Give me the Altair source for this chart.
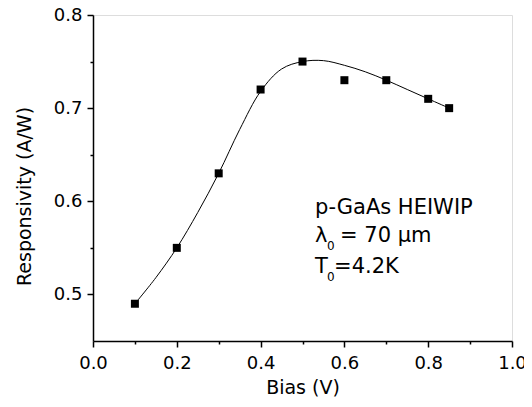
import altair as alt
import pandas as pd

# measured points
bias = [0.1, 0.2, 0.3, 0.4, 0.5, 0.6, 0.7, 0.8, 0.85]
resp = [0.49, 0.55, 0.63, 0.72, 0.75, 0.73, 0.73, 0.71, 0.70]

# smooth fit curve
fit_x = [0.1, 0.15, 0.2, 0.25, 0.3, 0.35, 0.4, 0.45, 0.5, 0.55, 0.6, 0.65, 0.7, 0.75, 0.8, 0.85]
fit_y = [0.49, 0.518, 0.55, 0.588, 0.63, 0.677, 0.718, 0.742, 0.75, 0.751, 0.746, 0.739, 0.73, 0.72, 0.71, 0.70]

# annotation (head text, subscript, tail text)
ann_head = ["p-GaAs HEIWIP", "λ", "T"]
ann_sub = ["", "0", "0"]
ann_tail = ["", "= 70 μm", "=4.2K"]
ann_x = [0.53, 0.53, 0.53]
ann_y = [0.586, 0.556, 0.523]

x_ticks = [round(0.1 * i, 1) for i in range(0, 11)]
y_ticks = [0.5, 0.55, 0.6, 0.65, 0.7, 0.75, 0.8]

pts = pd.DataFrame({"x": bias, "y": resp})
fit = pd.DataFrame({"x": fit_x, "y": fit_y})
ann = pd.DataFrame({"x": ann_x, "y": ann_y, "head": ann_head, "sub": ann_sub, "tail": ann_tail})

FONT = "DejaVu Sans"

xscale = alt.Scale(domain=[0.0, 1.0], nice=False, zero=False)
yscale = alt.Scale(domain=[0.45, 0.8], nice=False, zero=False)

common = dict(
    grid=False,
    labelFontSize=18,
    titleFontSize=19,
    labelFont=FONT,
    titleFont=FONT,
    labelColor="black",
    titleColor="black",
    titleFontWeight="normal",
    domainColor="black",
    tickColor="black",
    domainWidth=1.5,
    tickWidth=1.5,
    labelFlush=False,
)

xaxis = alt.Axis(
    values=x_ticks,
    title="Bias (V)",
    labelExpr="round(datum.value*10) % 2 == 0 ? format(datum.value, '.1f') : ''",
    tickSize={"condition": {"test": "round(datum.value*10) % 2 == 0", "value": 6}, "value": 3},
    labelPadding=7,
    titlePadding=6,
    **common,
)
yaxis = alt.Axis(
    values=y_ticks,
    title="Responsivity (A/W)",
    labelExpr="round(datum.value*20) % 2 == 0 ? format(datum.value, '.1f') : ''",
    tickSize={"condition": {"test": "round(datum.value*20) % 2 == 0", "value": 6}, "value": 3},
    labelPadding=5,
    titlePadding=19,
    titleY=181,
    **common,
)

line = alt.Chart(fit).mark_line(color="black", strokeWidth=1, interpolate="catmull-rom").encode(
    x=alt.X("x:Q", scale=xscale, axis=xaxis),
    y=alt.Y("y:Q", scale=yscale, axis=yaxis),
)
points = alt.Chart(pts).mark_square(color="black", size=64, opacity=1).encode(
    x=alt.X("x:Q", scale=xscale),
    y=alt.Y("y:Q", scale=yscale),
)
base_t = alt.Chart(ann).encode(
    x=alt.X("x:Q", scale=xscale),
    y=alt.Y("y:Q", scale=yscale),
)
head = base_t.mark_text(
    align="left", baseline="alphabetic", fontSize=21, font=FONT, color="black"
).encode(text="head:N")
sub = base_t.mark_text(
    align="left", baseline="alphabetic", fontSize=12, font=FONT, color="black", dx=12, dy=8
).encode(text="sub:N")
tail_lambda = base_t.mark_text(
    align="left", baseline="alphabetic", fontSize=21, font=FONT, color="black", dx=25
).encode(text="tail:N").transform_filter("datum.head == 'λ'")
tail_t = base_t.mark_text(
    align="left", baseline="alphabetic", fontSize=21, font=FONT, color="black", dx=19
).encode(text="tail:N").transform_filter("datum.head == 'T'")

chart = alt.layer(line, points, head, sub, tail_lambda, tail_t).properties(
    width=419,
    height=326,
    autosize=alt.AutoSizeParams(type="none"),
    padding={"left": 85, "top": 7, "right": 12, "bottom": 58},
).configure_view(stroke="black", strokeWidth=1.5).configure(background="white")

chart.save("out.html", embed_options={"renderer": "svg", "actions": False})
